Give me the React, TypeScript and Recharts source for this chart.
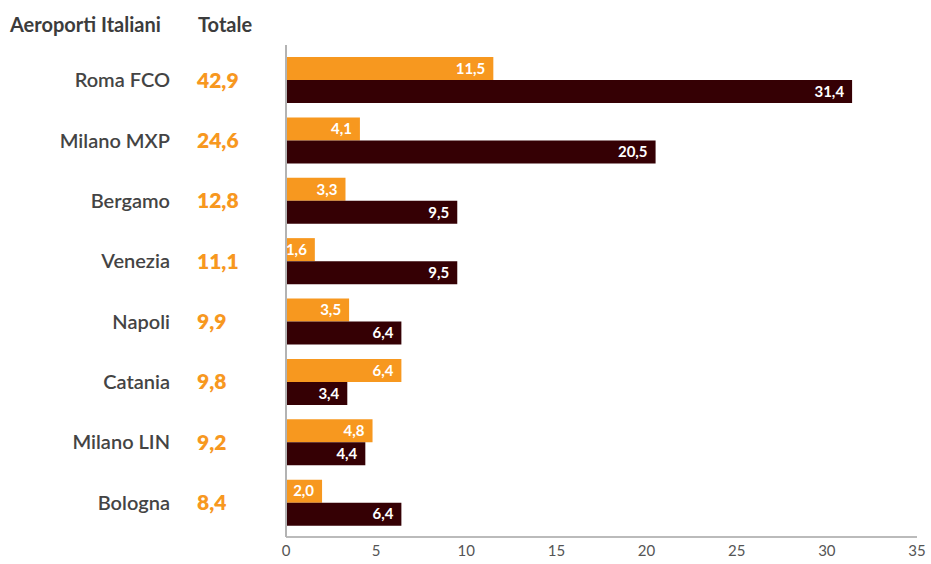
import { BarChart, Bar, XAxis, YAxis, LabelList } from "recharts";

const ORANGE = "#F7981F";
const DARK = "#350004";
const FONT = "Lato, 'Open Sans', sans-serif";

const aeroporti = [
  "Roma FCO",
  "Milano MXP",
  "Bergamo",
  "Venezia",
  "Napoli",
  "Catania",
  "Milano LIN",
  "Bologna",
];
const totale = [42.9, 24.6, 12.8, 11.1, 9.9, 9.8, 9.2, 8.4];
const serieArancio = [11.5, 4.1, 3.3, 1.6, 3.5, 6.4, 4.8, 2.0];
const serieScura = [31.4, 20.5, 9.5, 9.5, 6.4, 3.4, 4.4, 6.4];
const xTicks = [0, 5, 10, 15, 20, 25, 30, 35];

const data = aeroporti.map((nome, i) => ({
  nome,
  totale: totale[i],
  a: serieArancio[i],
  b: serieScura[i],
}));

const fmt = (v: unknown) =>
  Number(v).toLocaleString("it-IT", {
    minimumFractionDigits: 1,
    maximumFractionDigits: 1,
  });

function CategoryTick(props: any) {
  const { y, payload } = props;
  const row = data.find((d) => d.nome === payload.value);
  return (
    <g>
      <text
        x={170}
        y={y}
        dy="0.35em"
        textAnchor="end"
        fill="#444"
        fontSize={20}
        fontWeight={600}
        fontFamily={FONT}
      >
        {payload.value}
      </text>
      <text
        x={197}
        y={y}
        dy="0.35em"
        textAnchor="start"
        fill={ORANGE}
        fontSize={21}
        fontWeight={800}
        fontFamily={FONT}
      >
        {row ? fmt(row.totale) : ""}
      </text>
    </g>
  );
}

export default function App() {
  return (
    <div
      style={{
        position: "absolute",
        left: 0,
        top: 0,
        width: 931,
        height: 564,
        background: "#fff",
        fontFamily: FONT,
      }}
    >
      <div
        style={{
          position: "absolute",
          left: 10,
          top: 12,
          fontSize: 20,
          fontWeight: 700,
          color: "#3c3c3c",
        }}
      >
        Aeroporti Italiani
      </div>
      <div
        style={{
          position: "absolute",
          left: 198,
          top: 12,
          fontSize: 20,
          fontWeight: 700,
          color: "#3c3c3c",
        }}
      >
        Totale
      </div>
      <BarChart
        width={931}
        height={564}
        data={data}
        layout="vertical"
        margin={{ top: 45, right: 14, bottom: 0, left: 0 }}
        barGap={0}
        barSize={23}
      >
        <XAxis
          type="number"
          domain={[0, 35]}
          ticks={xTicks}
          height={27}
          tickLine={false}
          axisLine={{ stroke: "#bbb", strokeWidth: 2 }}
          tick={{ fill: "#555", fontSize: 15, fontFamily: FONT }}
        />
        <YAxis
          type="category"
          dataKey="nome"
          width={286}
          padding={{ top: 5, bottom: 4 }}
          tickLine={false}
          axisLine={{ stroke: "#b3b3b3", strokeWidth: 2 }}
          tick={<CategoryTick />}
        />
        <Bar dataKey="a" fill={ORANGE} isAnimationActive={false}>
          <LabelList
            dataKey="a"
            position="insideRight"
            offset={8}
            formatter={fmt}
            fill="#fff"
            fontSize={15}
            fontWeight={700}
            fontFamily={FONT}
          />
        </Bar>
        <Bar dataKey="b" fill={DARK} isAnimationActive={false}>
          <LabelList
            dataKey="b"
            position="insideRight"
            offset={8}
            formatter={fmt}
            fill="#fff"
            fontSize={15}
            fontWeight={700}
            fontFamily={FONT}
          />
        </Bar>
      </BarChart>
    </div>
  );
}
